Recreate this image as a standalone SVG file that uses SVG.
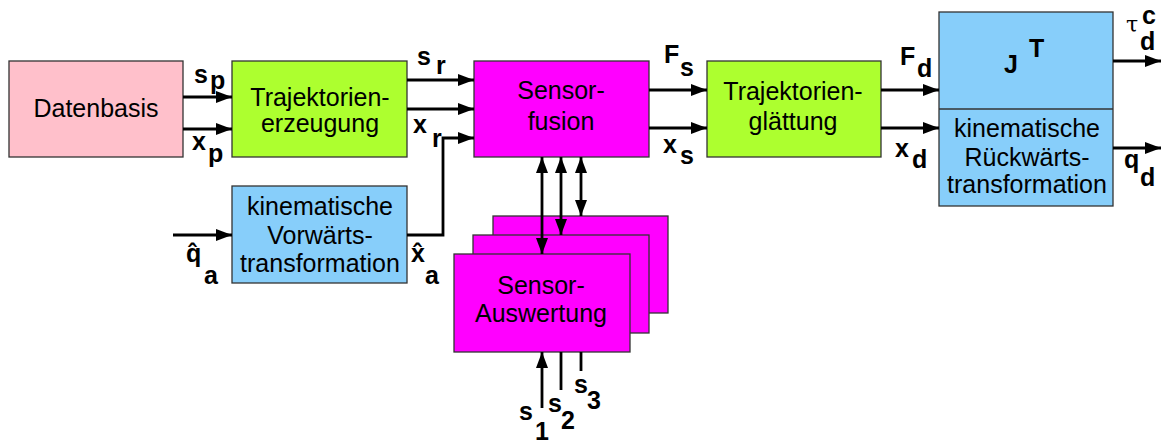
<svg xmlns="http://www.w3.org/2000/svg" width="1163" height="441" viewBox="0 0 1163 441">
<style>
.box{stroke:#333;stroke-width:1.3}
.pink{fill:#FFC0CB}
.green{fill:#ADFF2F}
.mag{fill:#FF00FF}
.blue{fill:#87CEFA}
.t{font-family:"Liberation Sans",Arial,sans-serif;font-size:25px;fill:#000;text-anchor:middle}
.l{font-family:"Liberation Sans",Arial,sans-serif;font-size:25px;font-weight:bold;fill:#000}
.c{fill:none;stroke:#000;stroke-width:2.8}
</style>
<defs>
<marker id="ah" viewBox="0 0 16 12" refX="16" refY="6" markerWidth="16" markerHeight="12" markerUnits="userSpaceOnUse" orient="auto-start-reverse">
<path d="M0,0 L16,6 L0,12 z" fill="#000"/>
</marker>
</defs>
<g id="datenbasis">
<rect class="box pink" x="9" y="61" width="174" height="96"/>
<text class="t" x="96" y="117">Datenbasis</text>
</g>
<g id="trajektorienerzeugung">
<rect class="box green" x="232" y="61" width="175" height="96"/>
<text class="t" x="320" y="106">Trajektorien-</text>
<text class="t" x="320" y="132">erzeugung</text>
</g>
<g id="vorwaerts">
<rect class="box blue" x="232" y="186" width="175" height="97"/>
<text class="t" x="320" y="215">kinematische</text>
<text class="t" x="320" y="244">Vorwärts-</text>
<text class="t" x="320" y="272">transformation</text>
</g>
<g id="sensorfusion">
<rect class="box mag" x="474" y="61" width="175" height="96"/>
<text class="t" x="561" y="99">Sensor-</text>
<text class="t" x="561" y="130">fusion</text>
</g>
<g id="sensorauswertung">
<rect class="box mag" x="493" y="216" width="175" height="97"/>
<rect class="box mag" x="473" y="235" width="176" height="98"/>
<rect class="box mag" x="454" y="254" width="176" height="98"/>
<text class="t" x="541" y="294">Sensor-</text>
<text class="t" x="541" y="322">Auswertung</text>
</g>
<g id="trajektorienglaettung">
<rect class="box green" x="707" y="61" width="174" height="96"/>
<text class="t" x="793" y="100">Trajektorien-</text>
<text class="t" x="793" y="130">glättung</text>
</g>
<g id="jt-rueckwaerts">
<rect class="box blue" x="939" y="12" width="174" height="194"/>
<line x1="939" y1="109" x2="1113" y2="109" stroke="#333" stroke-width="1.3"/>
<text class="l" x="1004" y="73">J</text>
<text class="l" x="1029" y="57">T</text>
<text class="t" x="1027" y="137">kinematische</text>
<text class="t" x="1027" y="166">Rückwärts-</text>
<text class="t" x="1027" y="193">transformation</text>
</g>
<g id="connectors">
<line class="c" x1="183" y1="97" x2="232" y2="97" marker-end="url(#ah)"/>
<line class="c" x1="183" y1="129" x2="232" y2="129" marker-end="url(#ah)"/>
<line class="c" x1="407" y1="80" x2="474" y2="80" marker-end="url(#ah)"/>
<line class="c" x1="407" y1="109" x2="474" y2="109" marker-end="url(#ah)"/>
<polyline class="c" points="407,235 443,235 443,138 474,138" marker-end="url(#ah)"/>
<line class="c" x1="173" y1="235" x2="232" y2="235" marker-end="url(#ah)"/>
<line class="c" x1="649" y1="90" x2="707" y2="90" marker-end="url(#ah)"/>
<line class="c" x1="649" y1="128" x2="707" y2="128" marker-end="url(#ah)"/>
<line class="c" x1="881" y1="90" x2="939" y2="90" marker-end="url(#ah)"/>
<line class="c" x1="881" y1="128" x2="939" y2="128" marker-end="url(#ah)"/>
<line class="c" x1="1113" y1="61" x2="1161" y2="61" marker-end="url(#ah)"/>
<line class="c" x1="1113" y1="148" x2="1161" y2="148" marker-end="url(#ah)"/>
<line class="c" x1="542" y1="157" x2="542" y2="254" marker-start="url(#ah)" marker-end="url(#ah)"/>
<line class="c" x1="561" y1="157" x2="561" y2="235" marker-start="url(#ah)" marker-end="url(#ah)"/>
<line class="c" x1="581" y1="157" x2="581" y2="216" marker-start="url(#ah)" marker-end="url(#ah)"/>
<line class="c" x1="542" y1="408" x2="542" y2="352" marker-end="url(#ah)"/>
<line class="c" x1="561" y1="352" x2="561" y2="390"/>
<line class="c" x1="581" y1="352" x2="581" y2="371"/>
</g>
<g id="labels">
<text class="l" x="194" y="83">s</text><text class="l" x="210" y="89">p</text>
<text class="l" x="192" y="150">x</text><text class="l" x="208" y="162">p</text>
<text class="l" x="417" y="65">s</text><text class="l" x="436" y="74">r</text>
<text class="l" x="413" y="133">x</text><text class="l" x="432" y="147">r</text>
<text class="l" x="664" y="63">F</text><text class="l" x="680" y="76">s</text>
<text class="l" x="663" y="153">x</text><text class="l" x="680" y="164">s</text>
<text class="l" x="900" y="65">F</text><text class="l" x="917" y="77">d</text>
<text class="l" x="895" y="157">x</text><text class="l" x="912" y="168">d</text>
<text x="1126" y="32" font-family="DejaVu Serif,serif" font-size="22" fill="#000">τ</text>
<text class="l" x="1142" y="24">c</text><text class="l" x="1140" y="50">d</text>
<text class="l" x="1124" y="168">q</text><text class="l" x="1140" y="186">d</text>
<text class="l" x="186" y="262">q</text><text class="l" x="188" y="262">ˆ</text><text class="l" x="204" y="284">a</text>
<text class="l" x="411" y="262">x</text><text class="l" x="413" y="262">ˆ</text><text class="l" x="425" y="284">a</text>
<text class="l" x="519" y="420">s</text><text class="l" x="535" y="440">1</text>
<text class="l" x="548" y="412">s</text><text class="l" x="561" y="429">2</text>
<text class="l" x="574" y="393">s</text><text class="l" x="587" y="409">3</text>
</g>
</svg>
